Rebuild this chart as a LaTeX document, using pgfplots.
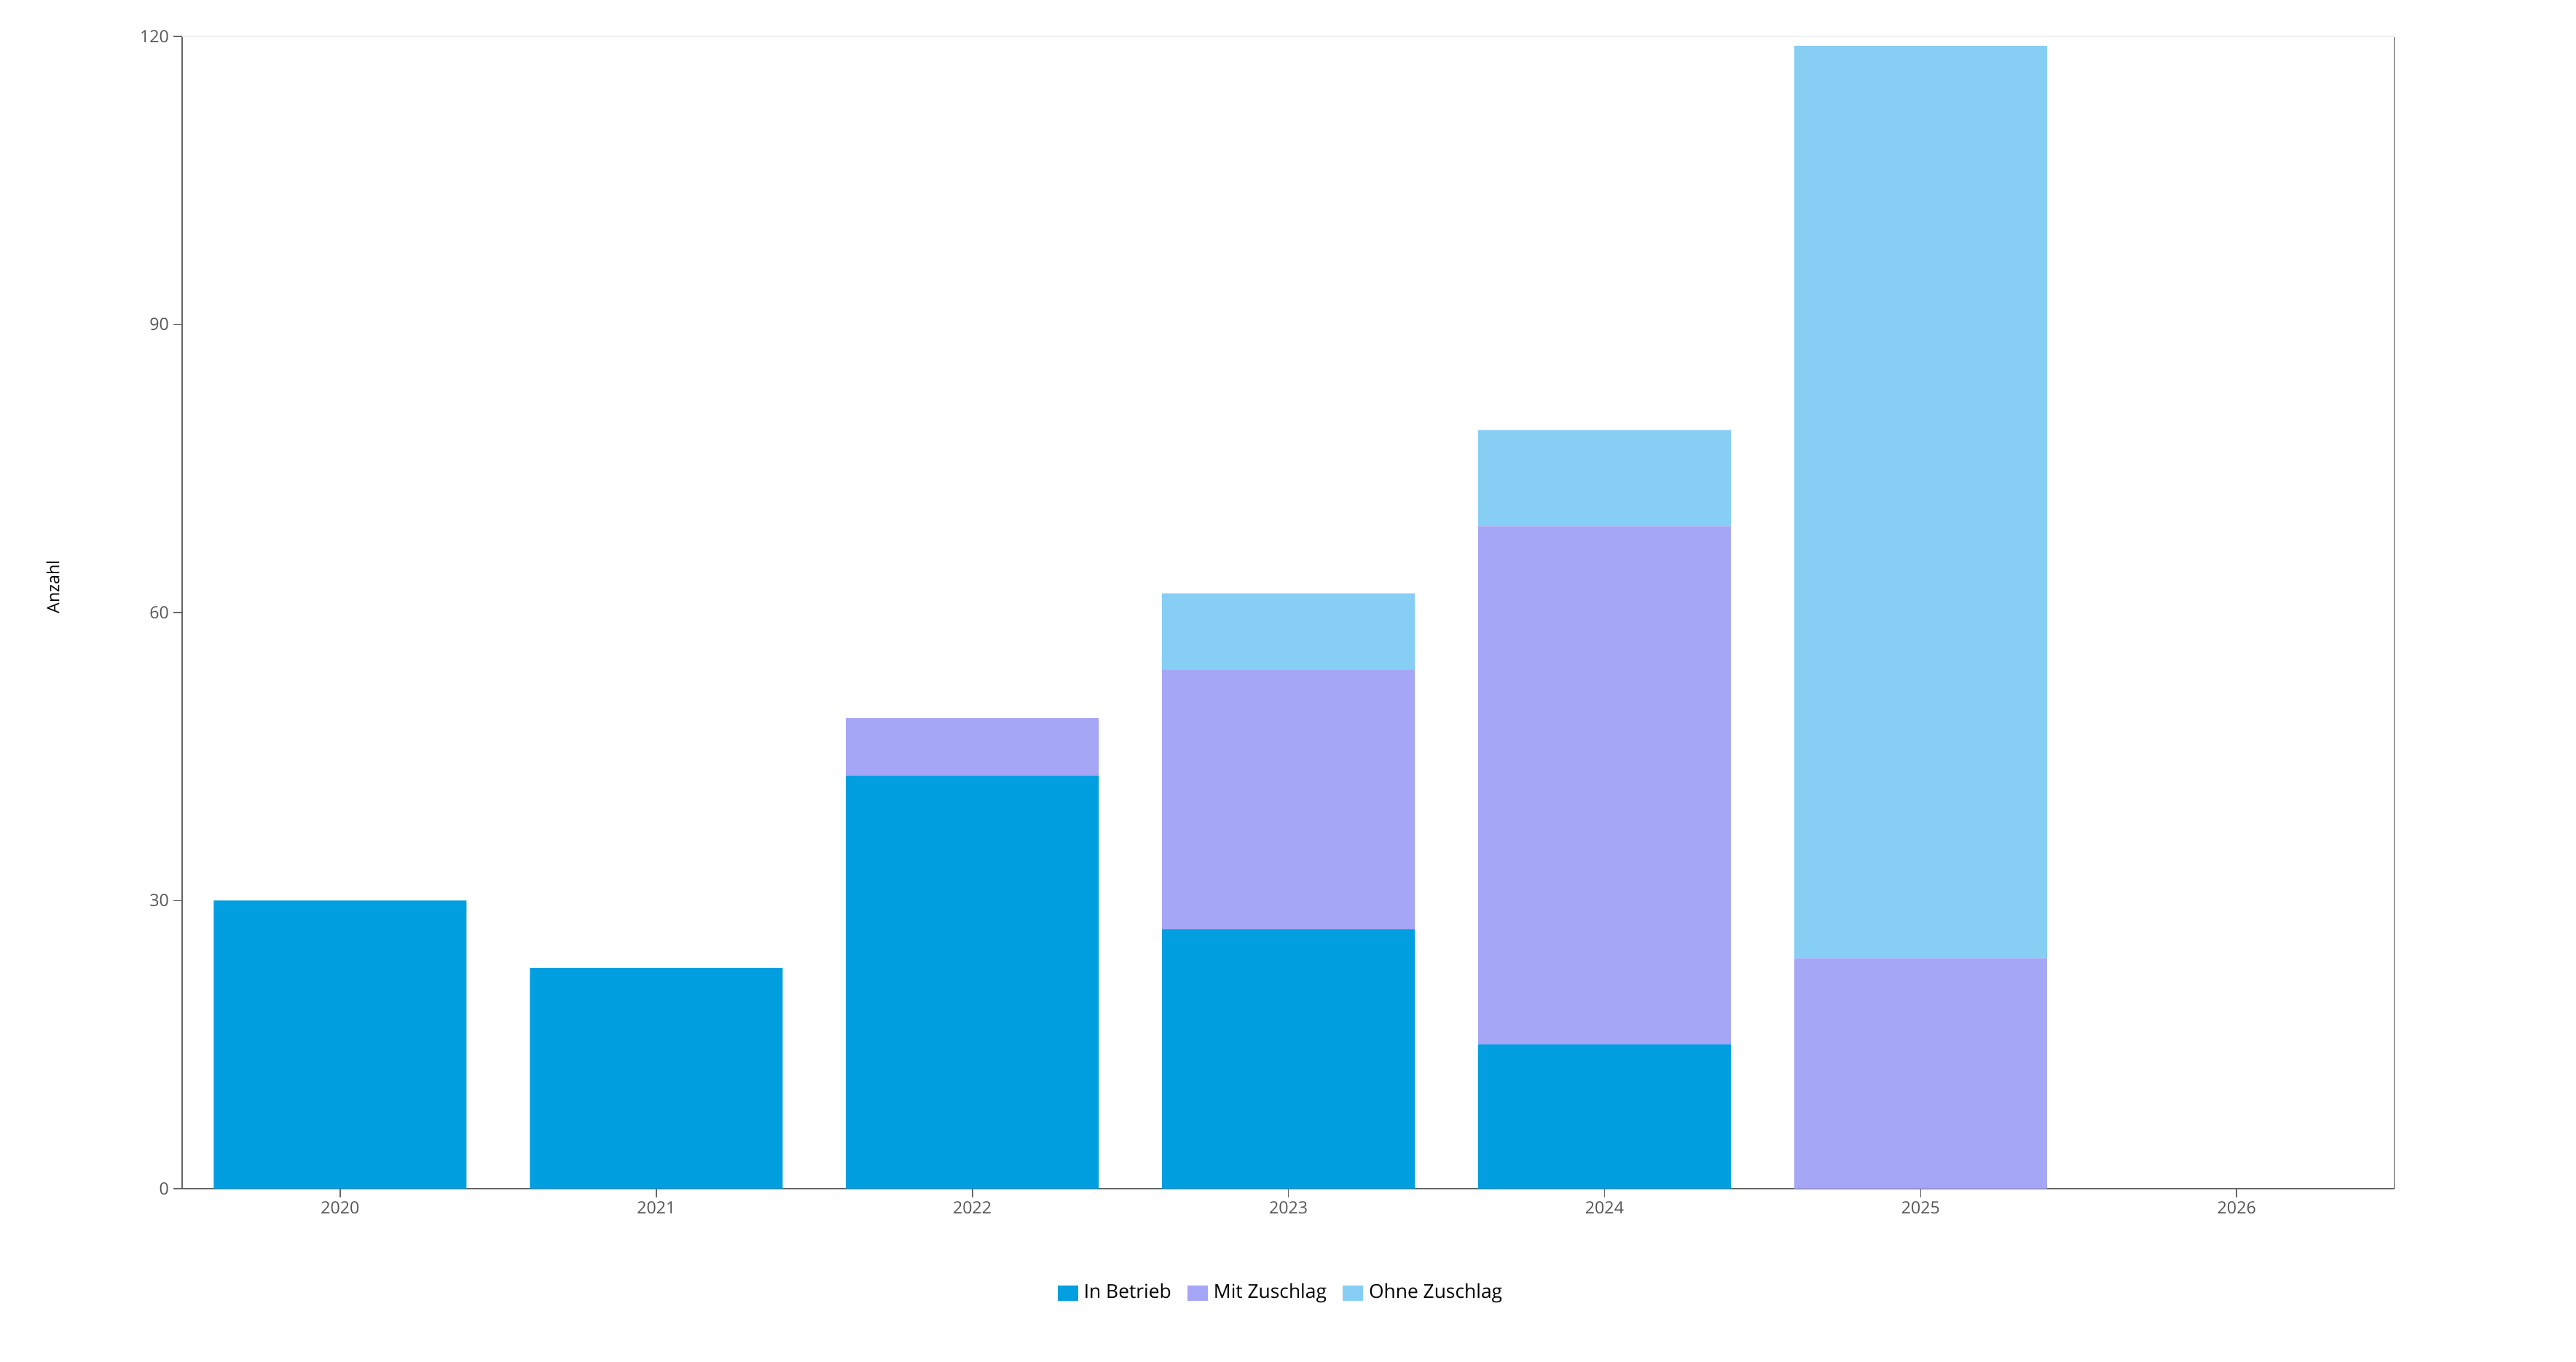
\documentclass[border=0pt]{standalone}
\usepackage{pgfplots}
\pgfplotsset{compat=1.18}
\usepackage{fontspec}
\setmainfont{Open Sans}
\definecolor{cBetrieb}{HTML}{019FE0}
\definecolor{cMit}{HTML}{A6A6F6}
\definecolor{cOhne}{HTML}{87CEF5}
\definecolor{axisgray}{HTML}{666666}
\definecolor{labelgray}{HTML}{555555}
\definecolor{topgray}{HTML}{F2F2F2}
\begin{document}
\begin{tikzpicture}
\useasboundingbox (0,0) rectangle (884pt,467.5pt);
\begin{axis}[
  at={(62.5pt,59.5pt)}, anchor=south west,
  scale only axis, width=759.3pt, height=395.5pt,
  ybar stacked, bar width=0.8,
  xmin=-0.5, xmax=6.5, ymin=0, ymax=120,
  xtick={0,1,2,3,4,5,6},
  xticklabels={2020,2021,2022,2023,2024,2025,2026},
  ytick={0,30,60,90,120},
  scaled ticks=false,
  /pgf/number format/assume math mode=true,
  axis x line*=bottom, axis y line*=left,
  axis line style={-, axisgray, line width=0.5pt},
  tick align=outside, major tick length=3pt,
  tick style={axisgray, line width=0.4pt},
  xticklabel style={font=\fontsize{5.8}{7}\selectfont, text=labelgray, yshift=2.2pt},
  yticklabel style={font=\fontsize{5.8}{7}\selectfont, text=labelgray, xshift=2pt},
  ylabel={Anzahl},
  every axis y label/.style={at={(axis description cs:-0.0584,0.522)}, rotate=90, anchor=center, font=\fontsize{5.8}{7}\selectfont},
  legend columns=-1,
  legend style={draw=none, fill=none, at={(axis description cs:0.4975,-0.0905)}, anchor=center,
    font=\fontsize{6.6}{8}\selectfont, inner sep=0pt,
    /tikz/every even column/.append style={column sep=3.5pt}},
  legend image code/.code={\fill[#1] (0pt,-2.65pt) rectangle (7pt,2.65pt);},
]
\addplot[fill=cBetrieb, draw=none] coordinates {(0,30) (1,23) (2,43) (3,27) (4,15) (5,0)};
\addplot[fill=cMit, draw=none] coordinates {(0,0) (1,0) (2,6) (3,27) (4,54) (5,24)};
\addplot[fill=cOhne, draw=none] coordinates {(0,0) (1,0) (2,0) (3,8) (4,10) (5,95)};
\legend{In Betrieb, Mit Zuschlag, Ohne Zuschlag}
\draw[topgray, line width=0.5pt] (rel axis cs:0,1) -- (rel axis cs:1,1);
\draw[axisgray, line width=0.6pt] (rel axis cs:1,0) -- (rel axis cs:1,1);
\end{axis}
\end{tikzpicture}
\end{document}
